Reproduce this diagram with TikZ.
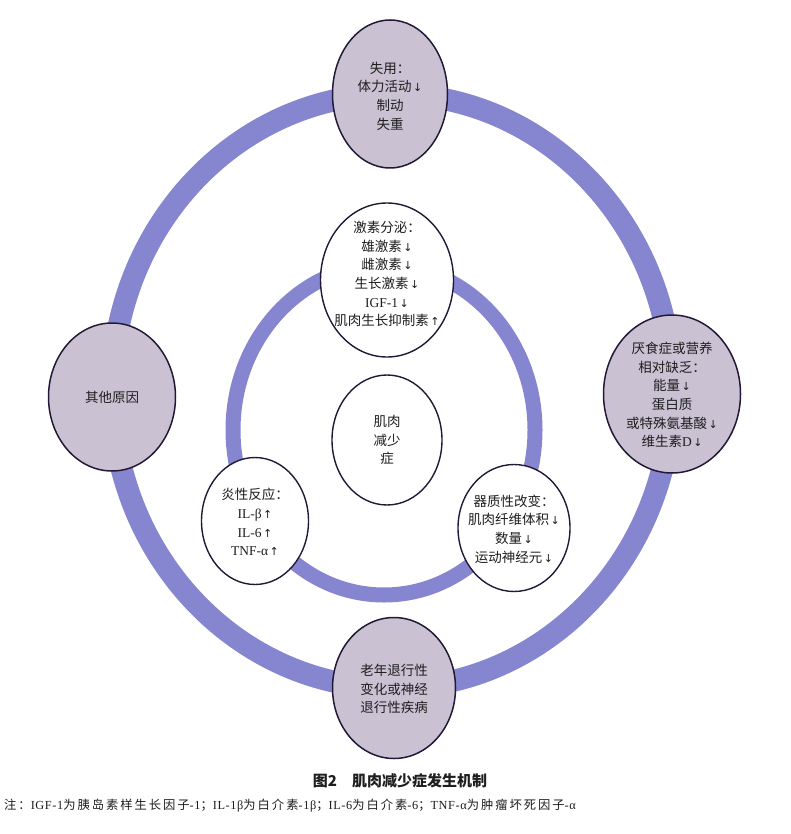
\documentclass[tikz,border=0pt]{standalone}
\usepackage{fontspec}
\setmainfont{Noto Sans CJK SC}
\newfontfamily\latf{Liberation Serif}
\newfontfamily\arwf{DejaVu Sans}
\newfontfamily\notef[LetterSpace=16]{Noto Sans CJK SC}
\newfontfamily\notelatf[LetterSpace=5]{Liberation Serif}
\usetikzlibrary{shapes.geometric}
\definecolor{ringc}{RGB}{134,134,208}
\definecolor{nodefill}{RGB}{202,193,211}
\definecolor{edgec}{RGB}{35,25,55}
\definecolor{txtc}{RGB}{30,30,30}
\newcommand\lt[1]{{\latf #1}}
\newcommand\nlt[1]{{\notelatf #1}}
\newcommand\dnar{\hspace{1.5pt}{\arwf\fontsize{11}{11}\selectfont ↓}}
\newcommand\upar{\hspace{1.5pt}{\arwf\fontsize{11}{11}\selectfont ↑}}
\begin{document}
\begin{tikzpicture}[x=1pt,y=-1pt,
  outerbub/.style={ellipse, draw=edgec, line width=1.5pt, fill=nodefill, inner sep=0pt},
  innerbub/.style={ellipse, draw=edgec, line width=1.4pt, fill=white, inner sep=0pt},
  lbl/.style={align=center, text=txtc, inner sep=0pt, font=\fontsize{13.5}{18.7}\selectfont}]
\useasboundingbox[fill=white] (0,0) rectangle (790,834);
% rings
\coordinate (oc) at (392,391);
\coordinate (ic) at (384,430);
\draw[ringc, line width=22pt] (oc) ellipse [x radius=280pt, y radius=297pt];
\draw[ringc, line width=15pt] (ic) ellipse [x radius=151pt, y radius=165pt];
% outer nodes
\node[outerbub, minimum width=115pt, minimum height=148pt] (top) at (390,94) {};
\node[lbl] (toptx) at (390,96) {失用：\\体力活动\dnar\\制动\\失重};
\node[outerbub, minimum width=127pt, minimum height=148pt] (left) at (112,397) {};
\node[lbl] (lefttx) at (left) {其他原因};
\node[outerbub, minimum width=137pt, minimum height=158pt] (right) at (672,394) {};
\node[lbl] (righttx) at (672,395) {厌食症或营养\\相对缺乏：\\能量\dnar\\蛋白质\\或特殊氨基酸\dnar\\维生素\lt{D}\dnar};
\node[outerbub, minimum width=123pt, minimum height=141pt] (bottom) at (394,688) {};
\node[lbl] (bottomtx) at (394,689) {老年退行性\\变化或神经\\退行性疾病};
% inner nodes
\node[innerbub, minimum width=133pt, minimum height=154pt] (hor) at (387,280) {};
\node[lbl] (hortx) at (387,274) {激素分泌：\\雄激素\dnar\\雌激素\dnar\\生长激素\dnar\\\lt{IGF-1}\dnar\\肌肉生长抑制素\upar};
\node[innerbub, minimum width=107pt, minimum height=127pt] (infl) at (255,521) {};
\node[lbl] (infltx) at (255,522) {炎性反应：\\\lt{IL-β}\upar\\\lt{IL-6}\upar\\\lt{TNF-α}\upar};
\node[innerbub, minimum width=112pt, minimum height=127pt] (org) at (514,528) {};
\node[lbl] (orgtx) at (514,529) {器质性改变：\\肌肉纤维体积\dnar\\数量\dnar\\运动神经元\dnar};
\node[innerbub, minimum width=110pt, minimum height=130pt] (core) at (387,440) {};
\node[lbl] (coretx) at (core) {肌肉\\减少\\症};
% caption and note
\node[text=txtc, inner sep=0pt, font=\fontsize{15}{15}\selectfont\bfseries] (cap) at (400,781) {图2\quad 肌肉减少症发生机制};
\node[anchor=west, text=txtc, inner sep=0pt, font=\fontsize{12.3}{13}\notef] (note) at (4,806)
  {注：\nlt{IGF-1}为胰岛素样生长因子\nlt{-1}；\nlt{IL-1β}为白介素\nlt{-1β}；\nlt{IL-6}为白介素\nlt{-6}；\nlt{TNF-α}为肿瘤坏死因子\nlt{-α}};
\end{tikzpicture}
\end{document}
